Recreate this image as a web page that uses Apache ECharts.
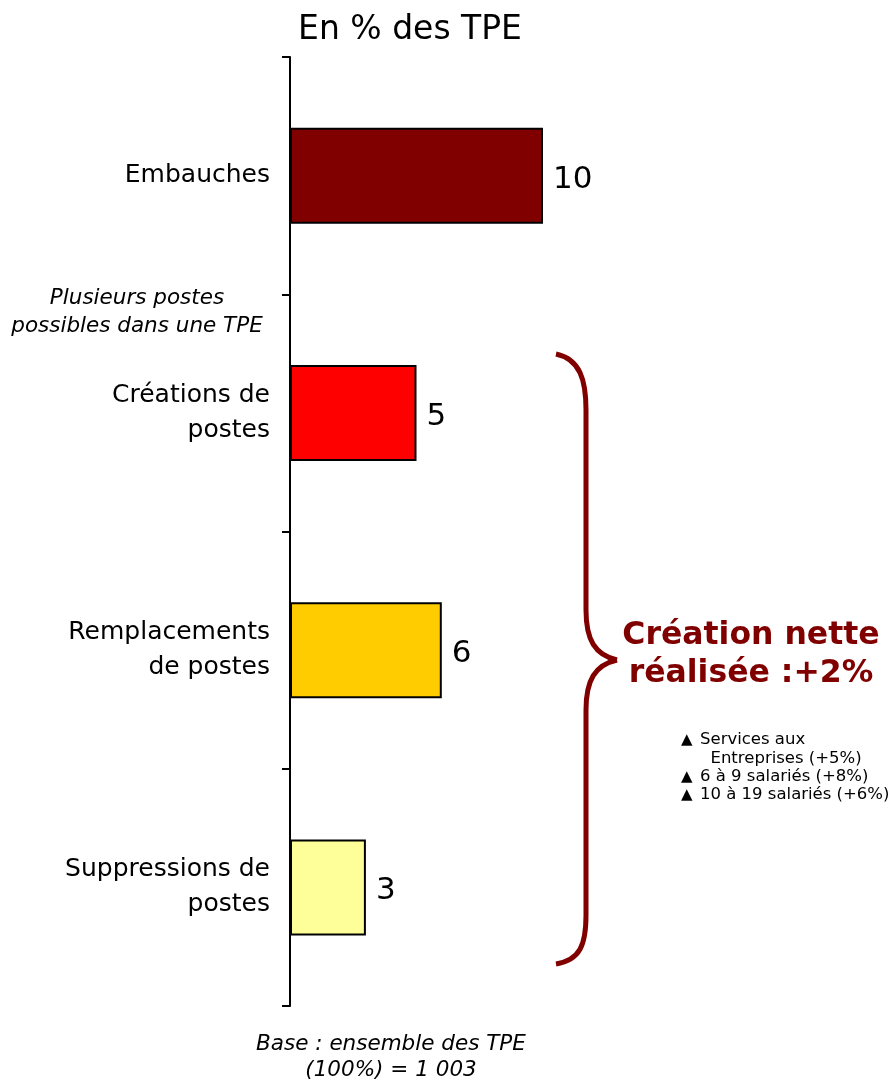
<!DOCTYPE html>
<html>
<head>
<meta charset="utf-8">
<script src="https://cdn.jsdelivr.net/npm/echarts@6/dist/echarts.min.js"></script>
<style>
html, body { margin: 0; padding: 0; background: #fff; }
#main { width: 893px; height: 1080px; }
</style>
</head>
<body>
<div id="main"></div>
<script>
var categories = ['Embauches', 'Créations de\npostes', 'Remplacements\nde postes', 'Suppressions de\npostes'];
var values = [10, 5, 6, 3];
var barColors = ['#800000', '#ff0000', '#ffcc00', '#ffff99'];
var bulletLines = ['Services aux', 'Entreprises (+5%)', '6 à 9 salariés (+8%)', '10 à 19 salariés (+6%)'];

var myChart = echarts.init(document.getElementById('main'));
var font = 'DejaVu Sans, Verdana, sans-serif';
var braceStyle = { fill: null, stroke: '#800000', lineWidth: 5 };

var barData = [];
for (var i = 0; i < values.length; i++) {
	barData.push({ value: values[i], itemStyle: { color: barColors[i] } });
}

// accolade (courbes + segments)
function curve(x1, y1, c1x, c1y, c2x, c2y, x2, y2) {
	return { type: 'bezierCurve', shape: { x1: x1, y1: y1, cpx1: c1x, cpy1: c1y, cpx2: c2x, cpy2: c2y, x2: x2, y2: y2 }, style: braceStyle };
}
function seg(x1, y1, x2, y2) {
	return { type: 'line', shape: { x1: x1, y1: y1, x2: x2, y2: y2 }, style: braceStyle };
}

var option = {
	backgroundColor: '#fff',
	animation: false,
	title: {
		text: 'En % des TPE',
		left: 405,
		top: 9,
		textAlign: 'center',
		textStyle: { fontFamily: font, fontWeight: 'normal', fontSize: 33, color: '#000' }
	},
	grid: { left: 290, right: 97, top: 57, bottom: 74 },
	xAxis: { type: 'value', min: 0, max: 20, show: false },
	yAxis: {
		type: 'category',
		inverse: true,
		data: categories,
		axisLine: { lineStyle: { color: '#000', width: 2 } },
		axisTick: { show: true, length: 8, lineStyle: { color: '#000', width: 2 } },
		axisLabel: { margin: 20, fontFamily: font, fontSize: 25, color: '#000', lineHeight: 35, align: 'right', padding: [6, 0, 0, 0] }
	},
	series: [{
		type: 'bar',
		data: barData,
		barWidth: 96,
		itemStyle: { borderColor: '#000', borderWidth: 2 },
		label: { show: true, position: 'right', distance: 10, fontFamily: font, fontSize: 31, color: '#000', offset: [0, 4] }
	}],
	graphic: [
		{
			type: 'text',
			x: 137, y: 284,
			style: { text: 'Plusieurs postes\npossibles dans une TPE', align: 'center', fontFamily: font, fontStyle: 'italic', fontSize: 21.5, lineHeight: 28, fill: '#000' }
		},
		curve(556, 354, 580, 359, 586, 380, 586, 410),
		seg(586, 410, 586, 610),
		curve(586, 610, 586, 640, 595, 655, 617, 660),
		curve(617, 660, 595, 665, 586, 680, 586, 710),
		seg(586, 710, 586, 915),
		curve(586, 915, 586, 945, 580, 960, 556, 964),
		{
			type: 'text',
			x: 751, y: 617,
			style: { text: 'Création nette\nréalisée :+2%', align: 'center', fontFamily: font, fontWeight: 'bold', fontSize: 31.5, lineHeight: 38, fill: '#800000' }
		},
		{
			type: 'text',
			x: 681, y: 731,
			style: { text: '▲\n\n▲\n▲', fontFamily: font, fontSize: 15, lineHeight: 18.3, fill: '#000' }
		},
		{
			type: 'text',
			x: 700, y: 731,
			style: { text: bulletLines[0] + '\n  ' + bulletLines[1] + '\n' + bulletLines[2] + '\n' + bulletLines[3], fontFamily: font, fontSize: 16.5, lineHeight: 18.3, fill: '#000' }
		},
		{
			type: 'text',
			x: 391, y: 1031,
			style: { text: 'Base : ensemble des TPE\n(100%) = 1 003', align: 'center', fontFamily: font, fontStyle: 'italic', fontSize: 21.5, lineHeight: 26, fill: '#000' }
		}
	]
};

myChart.setOption(option);
</script>
</body>
</html>
